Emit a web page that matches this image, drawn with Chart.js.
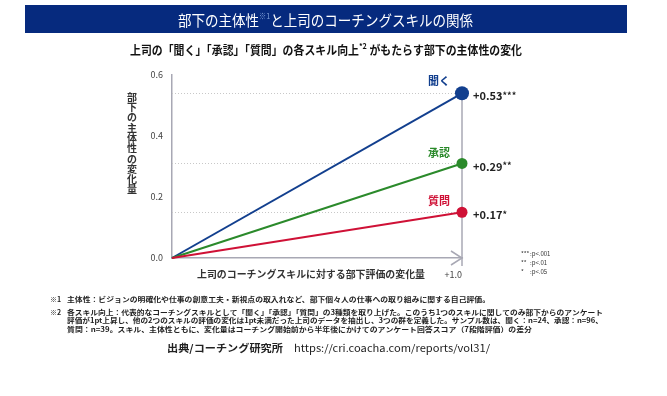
<!DOCTYPE html>
<html>
<head>
<meta charset="utf-8">
<script src="https://cdn.jsdelivr.net/npm/chart.js@4/dist/chart.umd.min.js"></script>
<style>
  html, body { margin: 0; padding: 0; background: #fff; }
  canvas { display: block; }
</style>
</head>
<body>
<canvas id="chart" width="667" height="396"></canvas>
<script>
// data
const skills = ["聞く", "承認", "質問"];
const skillChange = [0.54, 0.31, 0.15];      // plotted end points at x = +1.0
const valueLabels = ["+0.53", "+0.29", "+0.17"];
const stars = ["***", "**", "*"];
const yTicks = [0, 0.2, 0.4, 0.6];
const xTicks = [1];
const xTickLabels = ["+1.0"];
const sigLegend = [["***", ":p<.001"], ["**", ":p<.01"], ["*", ":p<.05"]];

const FONT = "'Noto Sans CJK JP', 'Noto Sans', sans-serif";
const lineColors = ["#123f8e", "#2b8a2b", "#cf1136"];
const dotSizes = [7, 5.5, 5.5];

// draw text segments squeezed/stretched to fit between x0 and x1
function drawRich(ctx, segs, x0, x1, y) {
    let total = 0;
    segs.forEach(s => { ctx.font = s.font; s.w = ctx.measureText(s.t).width; total += s.w; });
    const k = x1 ? (x1 - x0) / total : 1;
    ctx.save();
    ctx.translate(x0, y);
    ctx.scale(k, 1);
    ctx.textAlign = "left";
    ctx.textBaseline = "middle";
    let cx = 0;
    segs.forEach(s => {
        ctx.font = s.font;
        ctx.fillStyle = s.color;
        ctx.fillText(s.t, cx, s.dy || 0);
        cx += s.w;
    });
    ctx.restore();
}

const decorations = {
    id: "decorations",
    beforeDraw(chart) {
        const ctx = chart.ctx;
        ctx.save();
        ctx.fillStyle = "#fff";
        ctx.fillRect(0, 0, chart.width, chart.height);
        // title bar
        ctx.fillStyle = "#062a7e";
        ctx.fillRect(25, 5, 602, 28);
        ctx.restore();
        drawRich(ctx, [
            { t: "部下の主体性", font: "15px " + FONT, color: "#fff" },
            { t: "※1", font: "8px " + FONT, color: "#7f9fd8", dy: -4 },
            { t: "と上司のコーチングスキルの関係", font: "15px " + FONT, color: "#fff" }
        ], 178, 473, 20);
        drawRich(ctx, [
            { t: "上司の「聞く」「承認」「質問」の各スキル向上", font: "bold 12px " + FONT, color: "#111" },
            { t: "*2", font: "bold 8px " + FONT, color: "#111", dy: -4 },
            { t: " がもたらす部下の主体性の変化", font: "bold 12px " + FONT, color: "#111" }
        ], 130, 522, 50);
    },
    beforeDatasetsDraw(chart) {
        const ctx = chart.ctx;
        const x = chart.scales.x, y = chart.scales.y;
        const a = chart.chartArea;
        ctx.save();
        // dotted guides at each end value
        ctx.strokeStyle = "#c8c8c8";
        ctx.lineWidth = 1;
        ctx.setLineDash([1, 2]);
        skillChange.forEach(v => {
            const py = Math.round(y.getPixelForValue(v)) + 0.5;
            ctx.beginPath();
            ctx.moveTo(a.left, py);
            ctx.lineTo(a.right, py);
            ctx.stroke();
        });
        ctx.setLineDash([]);
        // vertical line at +1.0 and arrow head on the x axis
        ctx.strokeStyle = "#a8a8b4";
        ctx.lineWidth = 1.5;
        const px = x.getPixelForValue(1);
        ctx.beginPath();
        ctx.moveTo(px, y.getPixelForValue(Math.max(...skillChange)));
        ctx.lineTo(px, a.bottom + 8);
        ctx.stroke();
        ctx.beginPath();
        ctx.moveTo(px - 11, a.bottom - 7);
        ctx.lineTo(px, a.bottom);
        ctx.lineTo(px - 11, a.bottom + 7);
        ctx.stroke();
        ctx.restore();
    },
    afterDraw(chart) {
        const ctx = chart.ctx;
        const x = chart.scales.x, y = chart.scales.y;
        const px = x.getPixelForValue(1);
        ctx.save();
        // skill names and values next to the end points
        skills.forEach((s, i) => {
            const py = y.getPixelForValue(skillChange[i]);
            ctx.font = "bold 11px " + FONT;
            ctx.fillStyle = lineColors[i];
            ctx.textAlign = "right";
            ctx.textBaseline = "middle";
            ctx.fillText(s, px - 12, py - 11 - (i === 0 ? 1 : 0));
            drawRich(ctx, [
                { t: valueLabels[i], font: "bold 11px " + FONT, color: "#222" },
                { t: stars[i], font: "bold 9px " + FONT, color: "#222", dy: -1 }
            ], px + 11, null, py + 3);
        });
        // axis titles
        ctx.font = "bold 10px " + FONT;
        ctx.fillStyle = "#333";
        ctx.textAlign = "center";
        ctx.textBaseline = "middle";
        "部下の主体性の変化量".split("").forEach((c, i) => ctx.fillText(c, 132, 97 + i * 10.3));
        drawRich(ctx, [{ t: "上司のコーチングスキルに対する部下評価の変化量", font: "bold 10px " + FONT, color: "#333" }], 197, 425, 274);
        // significance legend
        ctx.font = "6px " + FONT;
        ctx.fillStyle = "#333";
        ctx.textAlign = "left";
        sigLegend.forEach((r, i) => {
            ctx.fillText(r[0], 521, 254 + i * 9);
            ctx.fillText(r[1], 530, 254 + i * 9);
        });
        // footnotes
        const fn = "bold 7px " + FONT;
        ctx.font = fn;
        ctx.fillStyle = "#222";
        ctx.fillText("※1", 50, 299.5);
        ctx.fillText("※2", 50, 312);
        drawRich(ctx, [{ t: "主体性：ビジョンの明確化や仕事の創意工夫・新視点の取入れなど、部下個々人の仕事への取り組みに関する自己評価。", font: fn, color: "#222" }], 67, 490, 299.5);
        drawRich(ctx, [{ t: "各スキル向上：代表的なコーチングスキルとして「聞く」「承認」「質問」の3種類を取り上げた。このうち1つのスキルに関してのみ部下からのアンケート", font: fn, color: "#222" }], 67, 603, 312);
        drawRich(ctx, [{ t: "評価が1pt上昇し、他の2つのスキルの評価の変化は1pt未満だった上司のデータを抽出し、3つの群を定義した。サンプル数は、聞く：n=24、承認：n=96、", font: fn, color: "#222" }], 67, 603, 320.5);
        drawRich(ctx, [{ t: "質問：n=39。スキル、主体性ともに、変化量はコーチング開始前から半年後にかけてのアンケート回答スコア（7段階評価）の差分", font: fn, color: "#222" }], 67, 532, 329);
        drawRich(ctx, [
            { t: "出典/コーチング研究所　", font: "bold 10px " + FONT, color: "#222" },
            { t: "https://cri.coacha.com/reports/vol31/", font: "10px " + FONT, color: "#222" }
        ], 167, 490, 348);
        ctx.restore();
    }
};

new Chart(document.getElementById("chart"), {
    type: "line",
    data: {
        datasets: skills.map((s, i) => ({
            label: s,
            data: [{ x: 0, y: 0 }, { x: 1, y: skillChange[i] }],
            borderColor: lineColors[i],
            backgroundColor: lineColors[i],
            borderWidth: 2,
            pointRadius: [0, dotSizes[i]],
            pointBorderWidth: 0,
            clip: false
        })).reverse()
    },
    options: {
        responsive: false,
        animation: false,
        devicePixelRatio: 1,
        events: [],
        layout: { padding: { left: 0, top: 75, right: 205, bottom: 0 } },
        plugins: { legend: { display: false }, tooltip: { enabled: false } },
        scales: {
            x: {
                type: "linear",
                min: 0,
                max: 1,
                afterBuildTicks: scale => { scale.ticks = xTicks.map(v => ({ value: v })); },
                afterFit: scale => { scale.height = 138; },
                ticks: {
                    callback: (v) => xTickLabels[xTicks.indexOf(v)],
                    font: { size: 9, family: FONT },
                    color: "#444",
                    padding: 11,
                    align: "end",
                    maxRotation: 0
                },
                grid: { display: false, drawTicks: false },
                border: { display: true, color: "#a8a8b4", width: 1.5 }
            },
            y: {
                min: 0,
                max: 0.6,
                afterBuildTicks: scale => { scale.ticks = yTicks.map(v => ({ value: v })); },
                afterFit: scale => { scale.width = 172; },
                ticks: {
                    callback: v => v.toFixed(1),
                    font: { size: 9, family: FONT },
                    color: "#444",
                    padding: 9
                },
                grid: { display: false, drawTicks: false },
                border: { display: true, color: "#a8a8b4", width: 1.5 }
            }
        }
    },
    plugins: [decorations]
});
</script>
</body>
</html>
